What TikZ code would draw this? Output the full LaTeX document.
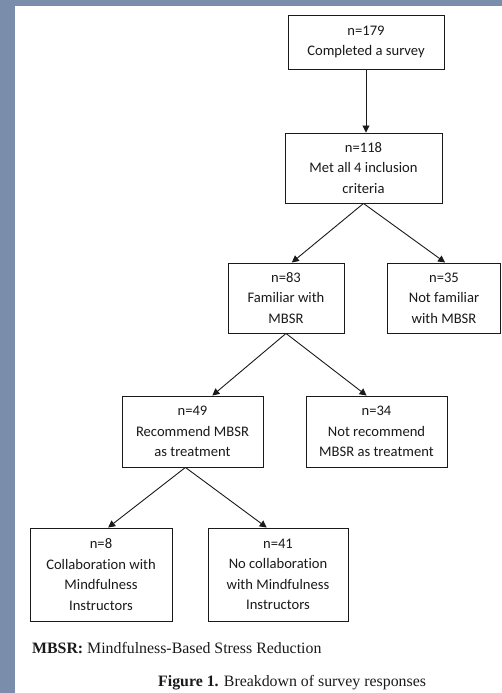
\documentclass[tikz,border=0pt]{standalone}
\usepackage{fontspec}
\setmainfont{Liberation Serif}
\newfontfamily\boxfont[Ligatures=NoCommon]{Carlito}
\usetikzlibrary{arrows.meta,calc}
\definecolor{frameblue}{HTML}{7A8DAA}
\definecolor{ink}{HTML}{1A1A1A}
\tikzset{
  flowbox/.style={draw=ink, line width=0.9pt, inner sep=0pt, align=center,
    text=ink, font=\boxfont\fontsize{14.6}{20.5}\selectfont},
  flowarrow/.style={draw=ink, line width=0.9pt, -{Triangle[length=7pt,width=7pt]}}
}
\begin{document}
\begin{tikzpicture}[x=1pt,y=1pt]
\useasboundingbox (0,0) rectangle (502,693);
\fill[frameblue] (0,0) rectangle (502,693);
\fill[white] (15,0) rectangle (502,687);

\node[flowbox, minimum width=156pt, minimum height=54pt] (b1) at (366,651) {n=179\\Completed a survey};
\node[flowbox, minimum width=157pt, minimum height=70pt] (b2) at (363.5,525) {n=118\\Met all 4 inclusion\\criteria};
\node[flowbox, minimum width=116pt, minimum height=70pt] (b3) at (286,395) {n=83\\Familiar with\\MBSR};
\node[flowbox, minimum width=113pt, minimum height=70pt] (b4) at (444,395) {n=35\\Not familiar\\with MBSR};
\node[flowbox, minimum width=141pt, minimum height=71pt] (b5) at (192.5,261.5) {n=49\\Recommend MBSR\\as treatment};
\node[flowbox, minimum width=141pt, minimum height=71pt] (b6) at (376.5,261.5) {n=34\\Not recommend\\MBSR as treatment};
\node[flowbox, minimum width=142pt, minimum height=93pt] (b7) at (101,118.5) {n=8\\Collaboration with\\Mindfulness\\Instructors};
\node[flowbox, minimum width=140pt, minimum height=93pt] (b8) at (278,118.5) {n=41\\No collaboration\\with Mindfulness\\Instructors};

\draw[flowarrow] (b1.south) -- (b1.south |- b2.north);
\draw[flowarrow] (b2.south) -- ($(b3.north west)!0.55!(b3.north east)$);
\draw[flowarrow] (b2.south) -- ($(b4.north west)!0.51!(b4.north east)$);
\draw[flowarrow] (b3.south) -- ($(b5.north west)!0.64!(b5.north east)$);
\draw[flowarrow] (b3.south) -- ($(b6.north west)!0.43!(b6.north east)$);
\draw[flowarrow] ($(b5.south west)!0.45!(b5.south east)$) -- ($(b7.north west)!0.55!(b7.north east)$);
\draw[flowarrow] ($(b5.south west)!0.45!(b5.south east)$) -- ($(b8.north west)!0.42!(b8.north east)$);

\node[anchor=base west, inner sep=0pt, font=\fontsize{15.85}{18}\selectfont, text=ink] (legend) at (32,39) {\textbf{MBSR:} Mindfulness-Based Stress Reduction};
\node[anchor=base west, inner sep=0pt, font=\fontsize{15.85}{18}\selectfont, text=ink] (caption) at (158,6) {\textbf{Figure 1.} Breakdown of survey responses};
\end{tikzpicture}
\end{document}
